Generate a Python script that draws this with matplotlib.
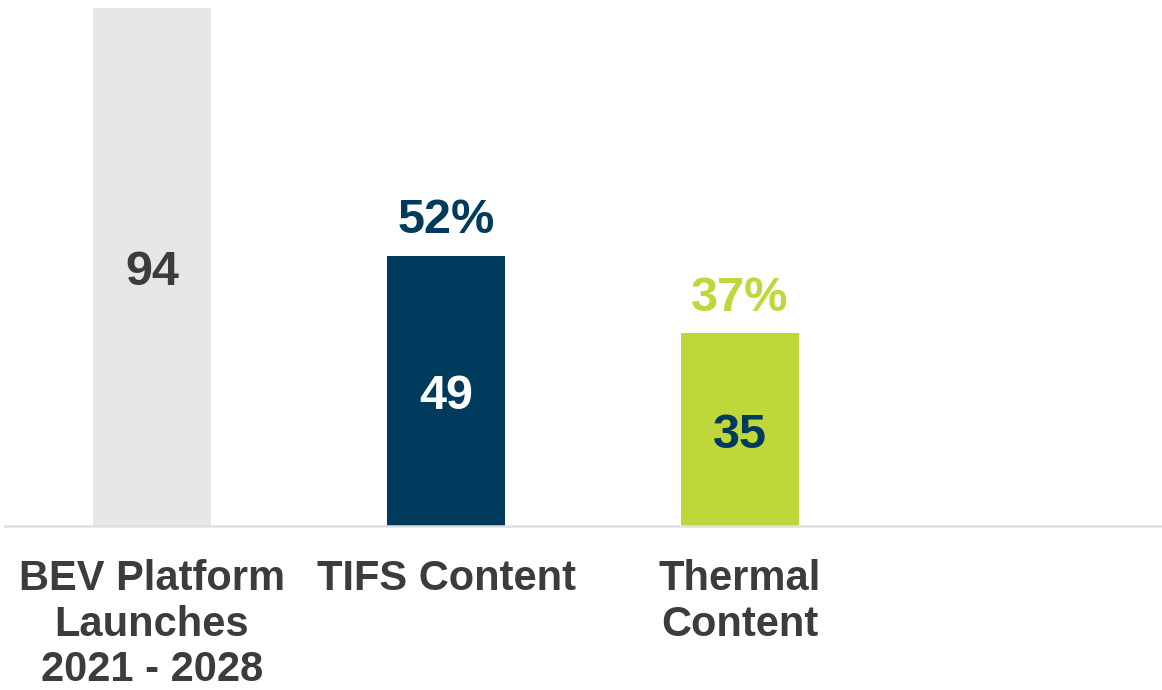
import matplotlib.pyplot as plt

plt.rcParams['font.family'] = ['Liberation Sans', 'DejaVu Sans']

categories = ['BEV Platform\nLaunches\n2021 - 2028', 'TIFS Content', 'Thermal\nContent']
values = [94, 49, 35]
bar_colors = ['#e6e6e6', '#003a5d', '#bfd73b']
value_colors = ['#3c3c3c', '#ffffff', '#003a5d']
share_colors = [None, '#003a5d', '#bfd73b']

fig = plt.figure(figsize=(11.62, 6.9), dpi=100)
ax = fig.add_axes([5 / 1162, 164 / 690, 1157 / 1162, 526 / 690])

x = range(len(values))
bars = ax.bar(x, values, width=0.4, color=bar_colors)

total = values[0]
for i, (b, v) in enumerate(zip(bars, values)):
    cx = b.get_x() + b.get_width() / 2
    ax.annotate(str(v), (cx, v / 2), xytext=(0, -4), textcoords='offset points',
                ha='center', va='center',
                fontsize=35, fontweight='bold', color=value_colors[i])
    if share_colors[i]:
        ax.annotate(f'{round(v / total * 100)}%', (cx, v), xytext=(0, 9),
                    textcoords='offset points', ha='center', va='bottom',
                    fontsize=35, fontweight='bold', color=share_colors[i])

ax.set_xlim(-0.5, 3.435)
ax.set_ylim(0, 94 * 526 / 518)
ax.set_xticks(list(x))
ax.set_xticklabels(categories, fontsize=30, fontweight='bold', color='#3c3c3c',
                   linespacing=1.18)
ax.tick_params(axis='x', length=0, pad=24)
ax.tick_params(axis='y', left=False, labelleft=False)
for s in ['top', 'right', 'left']:
    ax.spines[s].set_visible(False)
ax.spines['bottom'].set_color('#e0e0e0')
ax.spines['bottom'].set_linewidth(1.8)

fig.savefig('out.png', dpi=100)
